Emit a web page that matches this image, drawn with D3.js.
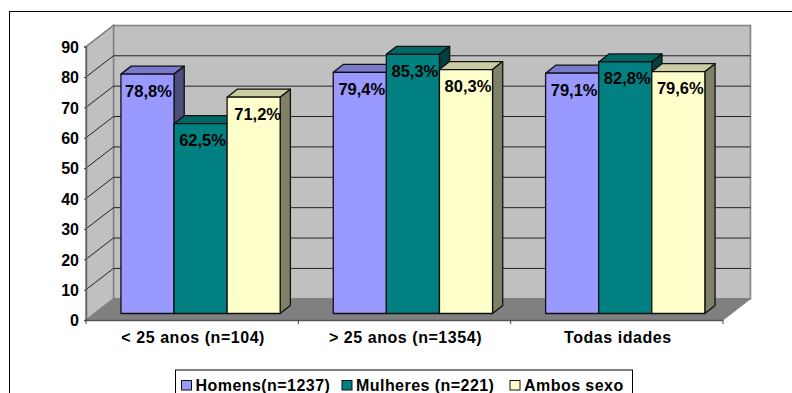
<!DOCTYPE html>
<html><head><meta charset="utf-8">
<script src="https://cdn.jsdelivr.net/npm/d3@7"></script>
<style>html,body{margin:0;padding:0;background:#fff;overflow:hidden}svg{display:block}
text{font-family:"Liberation Sans",Arial,sans-serif;font-weight:bold;fill:#000}</style>
</head><body><svg id="c" width="792" height="393"></svg>
<script>
const categories = ["< 25 anos (n=104)", "> 25 anos (n=1354)", "Todas idades"];
const seriesNames = ["Homens(n=1237)", "Mulheres (n=221)", "Ambos sexo"];
const homens = [78.8, 79.4, 79.1];
const mulheres = [62.5, 85.3, 82.8];
const ambos = [71.2, 80.3, 79.6];
const yTicks = [0,10,20,30,40,50,60,70,80,90];
const labelsHomens = ["78,8%","79,4%","79,1%"];
const labelsMulheres = ["62,5%","85,3%","82,8%"];
const labelsAmbos = ["71,2%","80,3%","79,6%"];

const colors = [
 {front:"#9999ff", top:"#7a7acc", side:"#4d4d80"},
 {front:"#008080", top:"#006666", side:"#004040"},
 {front:"#ffffcc", top:"#cccca3", side:"#808066"}];

const svg = d3.select("#c");
// outer frame (clipped by the window on the right and bottom)
svg.append("rect").attr("x",9.5).attr("y",11.5).attr("width",900).attr("height",500)
  .attr("fill","#fff").attr("stroke","#000").attr("stroke-width",1);

const L=86, R=723, Y0=320, Y90=46.6, DX=27.5, DY=-21.2;
const y = d3.scaleLinear().domain([0,90]).range([Y0,Y90]);
const x0 = d3.scaleBand().domain(categories).range([L,R]).paddingInner(0.25).paddingOuter(0.125);
const x1 = d3.scaleBand().domain(d3.range(3)).range([0,x0.bandwidth()]);

// walls and floor
const g = svg.append("g");
const pts = a => a.map(p=>p.join(",")).join(" ");
g.append("polygon").attr("points",pts([[L+DX,y(90)+DY],[R+DX,y(90)+DY],[R+DX,y(0)+DY],[L+DX,y(0)+DY]]))
  .attr("fill","#c0c0c0").attr("stroke","#808080").attr("stroke-width",1.5);
g.append("polygon").attr("points",pts([[L,y(90)],[L+DX,y(90)+DY],[L+DX,y(0)+DY],[L,y(0)]]))
  .attr("fill","#c0c0c0").attr("stroke","#808080").attr("stroke-width",1.5);
g.append("polygon").attr("points",pts([[L,y(0)],[L+DX,y(0)+DY],[R+DX,y(0)+DY],[R,y(0)]]))
  .attr("fill","#808080").attr("stroke","#808080").attr("stroke-width",1);

// gridlines
const grid = yTicks.filter(t=>t>0 && t<90);
g.selectAll("path.grid").data(grid).join("path").attr("class","grid")
  .attr("d",t=>`M${L},${y(t)}L${L+DX},${y(t)+DY}L${R+DX},${y(t)+DY}`)
  .attr("fill","none").attr("stroke","#222").attr("stroke-width",1);

// axes
const ax = svg.append("g").attr("transform",`translate(${L},0)`)
  .call(d3.axisLeft(y).tickValues(yTicks).tickSize(2).tickPadding(5));
ax.select(".domain").attr("stroke","#666").attr("stroke-width",1.5);
ax.selectAll("line").attr("stroke","#444");
ax.selectAll("text").attr("font-size",16).attr("dy","0.36em")
  .style("font-family",'"Liberation Sans",Arial,sans-serif').style("font-weight","bold");
const bx = svg.append("g").attr("transform",`translate(0,${Y0})`)
  .call(d3.axisBottom(x0).tickSize(0).tickPadding(12));
bx.select(".domain").attr("stroke","#555").attr("stroke-width",1.5).attr("d",`M${L},0.5H${R}`);
bx.selectAll("text").attr("font-size",16).attr("dx",1).attr("letter-spacing",0.55)
  .style("font-family",'"Liberation Sans",Arial,sans-serif').style("font-weight","bold");
const edges = d3.range(4).map(i=>L+i*x0.step());
svg.append("g").selectAll("line").data(edges).join("line")
  .attr("x1",d=>d).attr("x2",d=>d).attr("y1",Y0).attr("y2",Y0+4).attr("stroke","#444");

// bars
const FX=8.4, FY=-6.5, BX=10.2, BY=-8;
const series = [homens,mulheres,ambos];
const labels = [labelsHomens,labelsMulheres,labelsAmbos];
const barH = v => y(0)-y(v);
const bars = [];
categories.forEach((c,ci)=>series.forEach((s,si)=>bars.push({c,ci,si,v:s[ci],label:labels[si][ci]})));
const bg = svg.append("g").attr("stroke","#111").attr("stroke-width",1.3).attr("stroke-linejoin","round");
bars.forEach(b=>{
  const xl=x0(b.c)+x1(b.si)+FX, xr=xl+x1.bandwidth(), yb=y(0)+FY, yt=yb-barH(b.v);
  bg.append("polygon").attr("points",pts([[xl,yt],[xl+BX,yt+BY],[xr+BX,yt+BY],[xr,yt]])).attr("fill",colors[b.si].top);
  bg.append("polygon").attr("points",pts([[xr,yt],[xr+BX,yt+BY],[xr+BX,yb+BY],[xr,yb]])).attr("fill",colors[b.si].side);
  bg.append("rect").attr("x",xl).attr("y",yt).attr("width",xr-xl).attr("height",yb-yt).attr("fill",colors[b.si].front);
});
svg.append("g").selectAll("text").data(bars).join("text")
  .attr("x",b=>x0(b.c)+x1(b.si)+FX+x1.bandwidth()/2+(b.ci===0&&b.si===2?4:b.ci===0&&b.si===0?1:2))
  .attr("y",b=>y(0)+FY-barH(b.v)+22.5)
  .attr("text-anchor","middle").attr("font-size",16.5).text(b=>b.label);

// legend
const lg = svg.append("g");
lg.append("rect").attr("x",175.5).attr("y",370).attr("width",457).attr("height",40).attr("fill","#fff").attr("stroke","#000");
const legendX = [181.5,342,510];
seriesNames.forEach((n,i)=>{
  lg.append("rect").attr("x",legendX[i]).attr("y",380.5).attr("width",10).attr("height",9.5)
    .attr("fill",colors[i].front).attr("stroke","#111");
  lg.append("text").attr("x",legendX[i]+14).attr("y",390.5).attr("font-size",16).attr("letter-spacing",0.45).text(n);
});
</script></body></html>
